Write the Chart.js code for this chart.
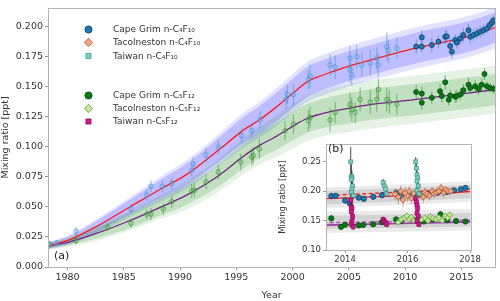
<!DOCTYPE html>
<html>
<head>
<meta charset="utf-8">
<script src="https://cdn.jsdelivr.net/npm/chart.js@4.4.1/dist/chart.umd.min.js"></script>
<style>
  html, body { margin: 0; padding: 0; background: #fff; }
  #wrap { position: relative; width: 500px; height: 301px; }
  #main { position: absolute; left: 0; top: 0; }
  #inset { position: absolute; left: 278px; top: 137px; }
</style>
</head>
<body>
<div id="wrap">
  <canvas id="main" width="500" height="301"></canvas>
  <canvas id="inset" width="205" height="132"></canvas>
</div>
<script>
// ---- ticks ----
const mainXTicks = [1980, 1985, 1990, 1995, 2000, 2005, 2010, 2015];
const mainYTicks = [0, 0.025, 0.05, 0.075, 0.1, 0.125, 0.15, 0.175, 0.2];
const insetXTicks = [2014, 2016, 2018];
const insetYTicks = [0.10, 0.15, 0.20, 0.25];

// ---- model fits (main panel and inset) ----
const fitYears = [1978.27, 1980.2, 1982.44, 1985.35, 1988.37, 1990.5, 1993.26, 1995.6, 1997.1, 1998.3, 1999.2, 2000.07, 2001.26, 2002.4, 2003.63, 2004.8, 2006.0, 2011.0, 2016.1, 2018.0];
const fitC4 = [0.0175, 0.0228, 0.0330, 0.0489, 0.0654, 0.0765, 0.0962, 0.1138, 0.1228, 0.1313, 0.1382, 0.1451, 0.1540, 0.1589, 0.1630, 0.1668, 0.1700, 0.1825, 0.1932, 0.1995];
const fitC5 = [0.0175, 0.0209, 0.0275, 0.0379, 0.0503, 0.0595, 0.0750, 0.0920, 0.1015, 0.1075, 0.1125, 0.1176, 0.1237, 0.1272, 0.1300, 0.1319, 0.1341, 0.1396, 0.1455, 0.1478];
// half widths of the uncertainty bands
const c4InnerHw = [0.002, 0.003, 0.0045, 0.006, 0.008, 0.009, 0.010, 0.011, 0.0115, 0.012, 0.012, 0.0122, 0.0125, 0.0125, 0.0125, 0.0125, 0.0125, 0.0128, 0.0128, 0.0128];
const c4OuterHw = [0.003, 0.004, 0.006, 0.008, 0.0105, 0.012, 0.013, 0.0145, 0.015, 0.0155, 0.016, 0.016, 0.0165, 0.0168, 0.017, 0.017, 0.017, 0.0172, 0.0172, 0.0172];
const c5InnerHw = [0.002, 0.0025, 0.004, 0.006, 0.007, 0.008, 0.009, 0.010, 0.0105, 0.011, 0.0115, 0.0118, 0.012, 0.0122, 0.0125, 0.0127, 0.0128, 0.013, 0.013, 0.013];
const c5OuterHw = [0.003, 0.004, 0.006, 0.008, 0.010, 0.012, 0.0135, 0.015, 0.016, 0.017, 0.018, 0.0185, 0.019, 0.0192, 0.0195, 0.0198, 0.020, 0.020, 0.020, 0.020];

// ---- Cape Grim air archive (open symbols) ----
const c4ArchYears = [1978.44, 1979.04, 1980.76, 1985.64, 1987.04, 1987.42, 1988.43, 1989.26, 1991.04, 1991.18, 1992.31, 1993.4, 1995.48, 1996.37, 1997.1, 1999.42, 1999.54, 2000.07, 2001.4, 2001.55, 2003.33, 2003.78, 2005.1, 2005.1, 2005.26, 2005.7, 2006.15, 2006.9, 2007.48, 2007.6, 2008.37, 2008.5, 2009.26];
const c4ArchVals = [0.0192, 0.0200, 0.0297, 0.0484, 0.0599, 0.0673, 0.0673, 0.0695, 0.0805, 0.0860, 0.0934, 0.0998, 0.1094, 0.1135, 0.1226, 0.1396, 0.1437, 0.1437, 0.1561, 0.1589, 0.1684, 0.1665, 0.1740, 0.1643, 0.1602, 0.1753, 0.1684, 0.1698, 0.1740, 0.1684, 0.1836, 0.1800, 0.1822];
const c4ArchErr = [0.002, 0.002, 0.004, 0.004, 0.005, 0.005, 0.005, 0.005, 0.005, 0.006, 0.006, 0.006, 0.006, 0.006, 0.007, 0.008, 0.008, 0.009, 0.008, 0.010, 0.009, 0.010, 0.010, 0.011, 0.009, 0.010, 0.010, 0.011, 0.009, 0.010, 0.012, 0.010, 0.009];
const c5ArchYears = [1978.44, 1980.76, 1983.57, 1985.64, 1987.04, 1987.42, 1988.52, 1989.26, 1991.04, 1991.27, 1992.31, 1993.4, 1995.4, 1996.37, 1996.5, 1997.05, 1999.33, 2000.07, 2001.4, 2001.55, 2003.33, 2003.78, 2005.1, 2005.26, 2005.56, 2006.0, 2006.9, 2007.48, 2007.63, 2008.37, 2008.6, 2009.26];
const c5ArchVals = [0.0187, 0.0220, 0.0330, 0.0365, 0.0440, 0.0440, 0.0484, 0.0544, 0.0632, 0.0640, 0.0709, 0.0791, 0.0874, 0.0915, 0.0929, 0.0984, 0.1135, 0.1190, 0.1218, 0.1245, 0.1226, 0.1286, 0.1355, 0.1313, 0.1286, 0.1396, 0.1374, 0.1396, 0.1478, 0.1396, 0.1374, 0.1355];
const c5ArchErr = [0.002, 0.003, 0.003, 0.004, 0.004, 0.005, 0.005, 0.005, 0.006, 0.006, 0.006, 0.006, 0.007, 0.007, 0.007, 0.008, 0.008, 0.008, 0.009, 0.009, 0.010, 0.009, 0.010, 0.010, 0.009, 0.010, 0.010, 0.010, 0.009, 0.010, 0.010, 0.009];

// ---- Cape Grim in situ (filled symbols) ----
const c4CgYears = [2010.98, 2011.48, 2011.48, 2012.37, 2012.96, 2013.56, 2013.7, 2014.0, 2014.15, 2014.44, 2014.6, 2014.9, 2015.18, 2015.63, 2015.78, 2016.07, 2016.37, 2016.66, 2016.96, 2017.26, 2017.49, 2017.7, 2017.85];
const c4CgVals = [0.1836, 0.1913, 0.1836, 0.1849, 0.1877, 0.1918, 0.1921, 0.1841, 0.1794, 0.1890, 0.1870, 0.1904, 0.1932, 0.1973, 0.1918, 0.1932, 0.1946, 0.1959, 0.1973, 0.1987, 0.2014, 0.2033, 0.2055];
const c4CgErr = [0.006, 0.006, 0.005, 0.006, 0.005, 0.006, 0.005, 0.006, 0.006, 0.005, 0.005, 0.005, 0.006, 0.005, 0.006, 0.005, 0.005, 0.005, 0.005, 0.004, 0.004, 0.004, 0.004];
const c5CgYears = [2010.98, 2011.48, 2011.48, 2012.37, 2013.1, 2013.26, 2013.56, 2013.87, 2014.0, 2014.44, 2014.58, 2014.9, 2015.18, 2015.63, 2015.78, 2016.22, 2016.52, 2016.81, 2017.05, 2017.26, 2017.55, 2017.85];
const c5CgVals = [0.1457, 0.1445, 0.1369, 0.1410, 0.1465, 0.1424, 0.1539, 0.1393, 0.1429, 0.1418, 0.1425, 0.1437, 0.1473, 0.1519, 0.1492, 0.1506, 0.1484, 0.1519, 0.1608, 0.1506, 0.1492, 0.1484];
const c5CgErr = [0.006, 0.006, 0.006, 0.005, 0.006, 0.005, 0.006, 0.005, 0.005, 0.005, 0.005, 0.005, 0.005, 0.006, 0.005, 0.005, 0.005, 0.005, 0.005, 0.004, 0.004, 0.004];

// ---- Tacolneston (inset) ----
const tacC4Years = [2015.60, 2015.70, 2015.78, 2015.85, 2015.92, 2016.00, 2016.05, 2016.12, 2016.20, 2016.40, 2016.50, 2016.55, 2016.62, 2016.70, 2016.78, 2016.85, 2016.92, 2017.00, 2017.07, 2017.15, 2017.22, 2017.30, 2017.38];
const tacC4Vals = [0.195, 0.190, 0.200, 0.185, 0.197, 0.192, 0.200, 0.188, 0.196, 0.194, 0.190, 0.198, 0.195, 0.192, 0.200, 0.196, 0.198, 0.200, 0.206, 0.197, 0.203, 0.200, 0.200];
const tacC4Err = [0.010, 0.012, 0.010, 0.012, 0.010, 0.010, 0.008, 0.010, 0.008, 0.008, 0.010, 0.008, 0.008, 0.008, 0.007, 0.008, 0.007, 0.007, 0.006, 0.007, 0.006, 0.006, 0.006];
const tacC5Years = [2015.70, 2015.80, 2015.90, 2015.98, 2016.05, 2016.12, 2016.20, 2016.45, 2016.55, 2016.65, 2016.72, 2016.80, 2016.90, 2017.00, 2017.10, 2017.20, 2017.28, 2017.35];
const tacC5Vals = [0.147, 0.152, 0.155, 0.158, 0.152, 0.156, 0.150, 0.152, 0.155, 0.150, 0.157, 0.154, 0.152, 0.155, 0.150, 0.158, 0.155, 0.160];
const tacC5Err = [0.004, 0.004, 0.004, 0.004, 0.004, 0.004, 0.004, 0.004, 0.004, 0.004, 0.004, 0.004, 0.004, 0.004, 0.004, 0.004, 0.004, 0.004];
const tacFitYears = [2013.3, 2018.1];
const tacFitC4 = [0.1925, 0.2037];
const tacFitC5 = [0.1462, 0.1508];

// ---- Taiwan (inset) ----
const twYears = [2014.18, 2014.20, 2014.22, 2014.20, 2014.24, 2014.22, 2014.20, 2014.26, 2015.22, 2015.25, 2015.30, 2015.33, 2016.26, 2016.28, 2016.30, 2016.32, 2016.30, 2016.34, 2016.30, 2016.36];
const twC4Vals = [0.2500, 0.2254, 0.2227, 0.2200, 0.2090, 0.2036, 0.1982, 0.1927, 0.2145, 0.2090, 0.2036, 0.1954, 0.2500, 0.2390, 0.2281, 0.2227, 0.2172, 0.2090, 0.2009, 0.1954];
const twC4Err = [0.025, 0.020, 0.012, 0.010, 0.008, 0.008, 0.008, 0.006, 0.006, 0.006, 0.006, 0.005, 0.008, 0.010, 0.010, 0.008, 0.008, 0.006, 0.006, 0.006];
const twC5Vals = [0.1845, 0.1736, 0.1709, 0.1654, 0.1573, 0.1491, 0.1436, 0.1393, 0.1518, 0.1491, 0.1463, 0.1436, 0.1872, 0.1818, 0.1763, 0.1709, 0.1627, 0.1573, 0.1491, 0.1436];
const twC5Err = [0.012, 0.010, 0.008, 0.008, 0.008, 0.006, 0.006, 0.005, 0.005, 0.005, 0.005, 0.005, 0.008, 0.008, 0.008, 0.006, 0.006, 0.006, 0.005, 0.005];

// ---- inset grey bands ----
const grayYears = [2013.3, 2018.1];
const c4GrayInner = [[0.177, 0.200], [0.188, 0.211]];
const c4GrayOuter = [[0.171, 0.206], [0.182, 0.217]];
const c5GrayInner = [[0.136, 0.158], [0.140, 0.163]];
const c5GrayOuter = [[0.129, 0.165], [0.133, 0.170]];

const pts = (xs, ys) => xs.map((x, i) => ({ x: x, y: ys[i] }));
const shifted = (xs, ys, hw, sign) => xs.map((x, i) => ({ x: x, y: ys[i] + sign * hw[i] }));
const pick = (xs, pairs, k) => xs.map((x, i) => ({ x: x, y: pairs[i][k] }));

Chart.defaults.font.family = '"DejaVu Sans", sans-serif';
Chart.defaults.color = '#333';
Chart.defaults.animation = false;

// vertical error bars, drawn just before the markers of the dataset
const errorBars = {
  id: 'errorBars',
  beforeDatasetDraw(chart, args) {
    const ds = chart.data.datasets[args.index];
    if (!ds.errs) return;
    const ctx = chart.ctx;
    const a = chart.chartArea;
    const yScale = chart.scales.y;
    ctx.save();
    ctx.beginPath();
    ctx.rect(a.left, a.top, a.right - a.left, a.bottom - a.top);
    ctx.clip();
    ctx.strokeStyle = ds.errColor;
    ctx.lineWidth = 1;
    ds.data.forEach((p, i) => {
      const el = args.meta.data[i];
      ctx.beginPath();
      ctx.moveTo(el.x, yScale.getPixelForValue(p.y - ds.errs[i]));
      ctx.lineTo(el.x, yScale.getPixelForValue(p.y + ds.errs[i]));
      ctx.stroke();
    });
    ctx.restore();
  }
};

// grey box round the plot area, white plot background
const frame = {
  id: 'frame',
  beforeDraw(chart) {
    const a = chart.chartArea;
    const ctx = chart.ctx;
    ctx.save();
    ctx.fillStyle = '#fff';
    ctx.fillRect(a.left, a.top, a.right - a.left, a.bottom - a.top);
    ctx.restore();
  },
  afterDraw(chart, args, opts) {
    const a = chart.chartArea;
    const ctx = chart.ctx;
    ctx.save();
    ctx.strokeStyle = '#b4b4b4';
    ctx.lineWidth = 1;
    ctx.strokeRect(Math.round(a.left) + 0.5, Math.round(a.top) + 0.5, Math.round(a.right - a.left), Math.round(a.bottom - a.top));
    ctx.fillStyle = '#222';
    ctx.font = '11px "DejaVu Sans"';
    ctx.textBaseline = 'middle';
    ctx.fillText(opts.tag, a.left + opts.tagDx, opts.tagY);
    ctx.restore();
  }
};

const legendRows = [
  { label: 'Cape Grim n-C₄F₁₀', style: 'circle', fill: '#1f77b4', edge: '#0d3b5e', y: 29.5 },
  { label: 'Tacolneston n-C₄F₁₀', style: 'rectRot', fill: '#f4a582', edge: '#9a5a3c', y: 42.5 },
  { label: 'Taiwan n-C₄F₁₀', style: 'rect', fill: '#80cdc1', edge: '#3f9a8c', y: 56 },
  { label: 'Cape Grim n-C₅F₁₂', style: 'circle', fill: '#0a7a14', edge: '#044a0a', y: 95.5 },
  { label: 'Tacolneston n-C₅F₁₂', style: 'rectRot', fill: '#c2e699', edge: '#6f9a45', y: 108.5 },
  { label: 'Taiwan n-C₅F₁₂', style: 'rect', fill: '#d6198a', edge: '#8a0f5a', y: 121.5 }
];

const legendBox = {
  id: 'legendBox',
  afterDraw(chart) {
    const ctx = chart.ctx;
    ctx.save();
    ctx.font = '9px "DejaVu Sans"';
    ctx.textBaseline = 'middle';
    legendRows.forEach(r => {
      ctx.fillStyle = r.fill;
      ctx.strokeStyle = r.edge;
      ctx.lineWidth = 0.8;
      Chart.helpers.drawPoint(ctx, { pointStyle: r.style, radius: r.style === 'rectRot' ? 4.2 : 3.6, rotation: 0, borderWidth: 0.8 }, 88.5, r.y);
      ctx.fillStyle = '#333';
      ctx.fillText(r.label, 113, r.y + 0.5);
    });
    ctx.restore();
  }
};

function band(data, color, fillTarget, order) {
  return { data: data, borderWidth: 0, pointRadius: 0, backgroundColor: color, fill: fillTarget,
           cubicInterpolationMode: 'monotone', order: order };
}
function line(data, color, width, dash, order) {
  return { data: data, borderColor: color, borderWidth: width, borderDash: dash || [], pointRadius: 0,
           fill: false, cubicInterpolationMode: 'monotone', order: order };
}
function marks(data, errs, style, r, fill, edge, errColor, order) {
  return { data: data, errs: errs, errColor: errColor, showLine: false, pointStyle: style, pointRadius: r,
           backgroundColor: fill, borderColor: edge, pointBorderWidth: 0.8, order: order };
}

function axisX(min, max, tickVals, size, height) {
  return {
    type: 'linear', min: min, max: max,
    afterBuildTicks: s => { s.ticks = tickVals.map(v => ({ value: v })); },
    afterFit: s => { s.height = height; },
    border: { display: false },
    grid: { drawOnChartArea: false, drawTicks: true, tickLength: 3, color: '#999' },
    ticks: { font: { size: size }, padding: 2, maxRotation: 0, autoSkip: false, callback: v => String(v) }
  };
}
function axisY(min, max, tickVals, size, width, digits) {
  return {
    type: 'linear', min: min, max: max,
    afterBuildTicks: s => { s.ticks = tickVals.map(v => ({ value: v })); },
    afterFit: s => { s.width = width; },
    border: { display: false },
    grid: { drawOnChartArea: false, drawTicks: true, tickLength: 3, color: '#999' },
    ticks: { font: { size: size }, padding: 2, autoSkip: false, callback: v => v.toFixed(digits) },
    title: { display: true, text: 'Mixing ratio [ppt]', font: { size: size }, padding: { top: 0, bottom: 3 } }
  };
}

// ---------------- main panel ----------------
new Chart(document.getElementById('main'), {
  type: 'line',
  data: {
    datasets: [
      band(shifted(fitYears, fitC4, c4OuterHw, 1), 'rgba(40,40,255,0.13)', '+1', 20),
      band(shifted(fitYears, fitC4, c4OuterHw, -1), 'rgba(0,0,0,0)', false, 20),
      band(shifted(fitYears, fitC4, c4InnerHw, 1), 'rgba(40,40,255,0.2)', '+1', 19),
      band(shifted(fitYears, fitC4, c4InnerHw, -1), 'rgba(0,0,0,0)', false, 19),
      band(shifted(fitYears, fitC5, c5OuterHw, 1), 'rgba(0,128,0,0.1)', '+1', 18),
      band(shifted(fitYears, fitC5, c5OuterHw, -1), 'rgba(0,0,0,0)', false, 18),
      band(shifted(fitYears, fitC5, c5InnerHw, 1), 'rgba(0,128,0,0.16)', '+1', 17),
      band(shifted(fitYears, fitC5, c5InnerHw, -1), 'rgba(0,0,0,0)', false, 17),
      line(pts(fitYears, fitC4), '#ff1a1a', 1.3, null, 6),
      line(pts(fitYears, fitC5), '#7b1f8c', 1.3, null, 6),
      marks(pts(c4ArchYears, c4ArchVals), c4ArchErr, 'circle', 2.3, 'rgba(130,185,235,0.3)', 'rgba(60,140,210,0.7)', 'rgba(60,140,210,0.55)', 4),
      marks(pts(c5ArchYears, c5ArchVals), c5ArchErr, 'circle', 2.3, 'rgba(120,190,120,0.3)', 'rgba(40,140,40,0.7)', 'rgba(40,140,40,0.55)', 4),
      marks(pts(c4CgYears, c4CgVals), c4CgErr, 'circle', 2.5, '#1f77b4', '#0d3b5e', 'rgba(40,120,190,0.55)', 2),
      marks(pts(c5CgYears, c5CgVals), c5CgErr, 'circle', 2.5, '#0a7a14', '#044a0a', 'rgba(30,130,40,0.55)', 2)
    ]
  },
  options: {
    responsive: false,
    layout: { padding: { top: 4, right: 4, left: 0, bottom: 0 } },
    plugins: { legend: { display: false }, tooltip: { enabled: false },
               frame: { tag: '(a)', tagDx: 6, tagY: 256 } },
    scales: {
      x: Object.assign(axisX(1978.27, 2018.0, mainXTicks, 9.5, 34),
        { title: { display: true, text: 'Year', font: { size: 9.5 }, padding: { top: 1, bottom: 0 } } }),
      y: axisY(0, 0.216, mainYTicks, 9.5, 48, 3)
    }
  },
  plugins: [errorBars, frame, legendBox]
});

// ---------------- inset ----------------
new Chart(document.getElementById('inset'), {
  type: 'line',
  data: {
    datasets: [
      band(pick(grayYears, c4GrayOuter, 1), 'rgba(0,0,0,0.08)', '+1', 20),
      band(pick(grayYears, c4GrayOuter, 0), 'rgba(0,0,0,0)', false, 20),
      band(pick(grayYears, c4GrayInner, 1), 'rgba(0,0,0,0.1)', '+1', 19),
      band(pick(grayYears, c4GrayInner, 0), 'rgba(0,0,0,0)', false, 19),
      band(pick(grayYears, c5GrayOuter, 1), 'rgba(0,0,0,0.08)', '+1', 20),
      band(pick(grayYears, c5GrayOuter, 0), 'rgba(0,0,0,0)', false, 20),
      band(pick(grayYears, c5GrayInner, 1), 'rgba(0,0,0,0.1)', '+1', 19),
      band(pick(grayYears, c5GrayInner, 0), 'rgba(0,0,0,0)', false, 19),
      line(pts(fitYears, fitC4), '#ff1a1a', 1.4, null, 6),
      line(pts(tacFitYears, tacFitC4), '#ff1a1a', 1.4, [4, 2.5], 6),
      line(pts(fitYears, fitC5), '#9b3aa8', 1.6, null, 6),
      line(pts(tacFitYears, tacFitC5), '#b04ab8', 1.4, [4, 2.5], 6),
      marks(pts(c4CgYears, c4CgVals), c4CgErr, 'circle', 2.6, '#1f77b4', '#0d3b5e', 'rgba(40,120,190,0.6)', 3),
      marks(pts(c5CgYears, c5CgVals), c5CgErr, 'circle', 2.6, '#0a7a14', '#044a0a', 'rgba(30,130,40,0.6)', 3),
      marks(pts(tacC4Years, tacC4Vals), tacC4Err, 'rectRot', 2.9, '#f4a582', '#9a5a3c', 'rgba(200,110,80,0.7)', 2),
      marks(pts(tacC5Years, tacC5Vals), tacC5Err, 'rectRot', 2.9, '#c2e699', '#6f9a45', 'rgba(110,160,70,0.7)', 2),
      marks(pts(twYears, twC4Vals), twC4Err, 'rect', 2.8, '#80cdc1', '#3f9a8c', 'rgba(30,30,30,0.8)', 1),
      marks(pts(twYears, twC5Vals), twC5Err, 'rect', 2.8, '#d6198a', '#8a0f5a', 'rgba(30,30,30,0.8)', 1)
    ]
  },
  options: {
    responsive: false,
    layout: { padding: { top: 4, right: 5, left: 0, bottom: 0 } },
    plugins: { legend: { display: false }, tooltip: { enabled: false },
               frame: { tag: '(b)', tagDx: 2, tagY: 12 } },
    scales: {
      x: axisX(2013.39, 2018.02, insetXTicks, 8.5, 19),
      y: axisY(0.10, 0.28, insetYTicks, 8.5, 48, 2)
    }
  },
  plugins: [errorBars, frame]
});
</script>
</body>
</html>
